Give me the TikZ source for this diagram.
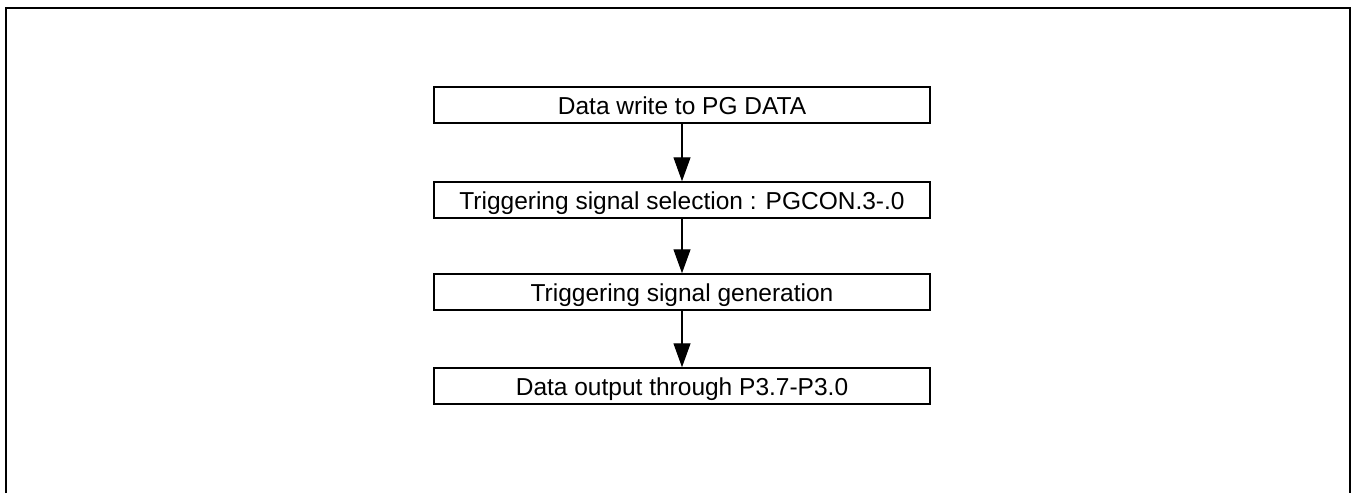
\documentclass[tikz,border=0pt]{standalone}
\usepackage{fontspec}
\setmainfont{Liberation Sans}
\usetikzlibrary{arrows.meta}
\begin{document}
\begin{tikzpicture}[x=1pt,y=-1pt,
  stepbox/.style={draw,line width=1.5pt,minimum width=496pt,minimum height=36pt,inner sep=0pt,text height=18pt,text depth=0pt,font=\fontsize{24.5}{28}\selectfont},
  flow/.style={line width=1.3pt,-{Triangle[length=24pt,width=17pt]}}]
\useasboundingbox (0,0) rectangle (1354,493);
\draw[line width=1.7pt] (6,493) -- (6,8) -- (1350,8) -- (1350,493);
\node[stepbox] (a) at (682,105) {Data write to PG DATA};
\node[stepbox] (b) at (682,200) {Triggering signal selection : PGCON.3-.0};
\node[stepbox] (c) at (682,292) {Triggering signal generation};
\node[stepbox] (d) at (682,386) {Data output through P3.7-P3.0};
\draw[flow] (a) -- (b);
\draw[flow] (b) -- (c);
\draw[flow] (c) -- (d);
\end{tikzpicture}
\end{document}
